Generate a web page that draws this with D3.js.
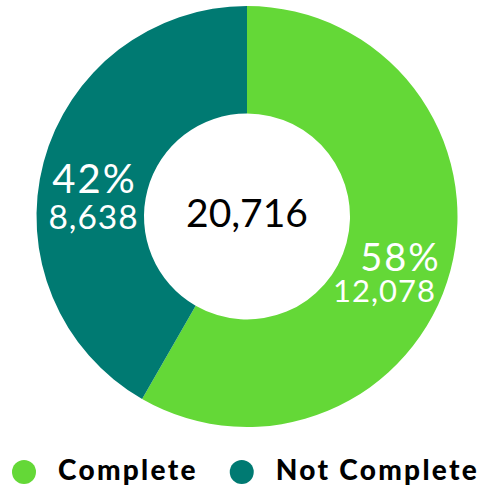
<!DOCTYPE html>
<html>
<head>
<meta charset="utf-8">
<script src="https://cdn.jsdelivr.net/npm/d3@7"></script>
<style>
  body { margin: 0; background: #fff; }
  text { font-family: "Lato", "Open Sans", sans-serif; }
</style>
</head>
<body>
<svg></svg>
<script>
const categories = ['Complete', 'Not Complete'];
const counts = [12078, 8638];
const colors = ['#64d837', '#007a72'];

const size = {w: 482, h: 493};
const center = {x: 247, y: 216.5};
const radius = {outer: 210.5, inner: 103};

// per-slice label tweaks (offsets from the centroid, font sizes)
const pctStyle = [{dx: 2, dy: 14, fs: 38}, {dx: -1, dy: 17, fs: 40}];
const valStyle = [{dx: -14, dy: 45, fs: 31}, {dx: -2, dy: 53, fs: 33.5}];

const svg = d3.select('svg')
    .attr('width', size.w)
    .attr('height', size.h);

const total = d3.sum(counts);
const fmt = d3.format(',');

const pie = d3.pie().sort(null).value(d => d.value);
const arc = d3.arc().innerRadius(radius.inner).outerRadius(radius.outer);

const data = categories.map((c, i) => ({name: c, value: counts[i], color: colors[i]}));
const arcs = pie(data);

const g = svg.append('g')
    .attr('transform', `translate(${center.x},${center.y})`);

g.selectAll('path')
    .data(arcs)
    .join('path')
    .attr('d', arc)
    .attr('fill', d => d.data.color);

// labels on slices
const labels = g.selectAll('g.label')
    .data(arcs)
    .join('g')
    .classed('label', true)
    .attr('transform', d => `translate(${arc.centroid(d)})`);

labels.append('text')
    .attr('text-anchor', 'middle')
    .attr('x', (d, i) => pctStyle[i].dx)
    .attr('y', (d, i) => pctStyle[i].dy)
    .attr('fill', '#fff')
    .attr('font-size', (d, i) => pctStyle[i].fs)
    .attr('letter-spacing', 2)
    .text(d => Math.round(d.data.value / total * 100) + '%');

labels.append('text')
    .attr('text-anchor', 'middle')
    .attr('x', (d, i) => valStyle[i].dx)
    .attr('y', (d, i) => valStyle[i].dy)
    .attr('fill', '#fff')
    .attr('font-size', (d, i) => valStyle[i].fs)
    .attr('letter-spacing', 1)
    .text(d => fmt(d.data.value));

g.append('text')
    .attr('text-anchor', 'middle')
    .attr('y', 10)
    .attr('fill', '#000')
    .attr('font-size', 39)
    .text(fmt(total));

// legend
const legend = svg.append('g').attr('transform', 'translate(0,472)');
let x = 24;
data.forEach(d => {
    legend.append('circle')
        .attr('cx', x)
        .attr('cy', 0)
        .attr('r', 12)
        .attr('fill', d.color);
    const t = legend.append('text')
        .attr('x', x + 34)
        .attr('y', 8)
        .attr('font-size', 28)
        .attr('font-weight', 900)
        .attr('letter-spacing', 2.3)
        .attr('fill', '#000')
        .text(d.name);
    x = x + 34 + t.node().getComputedTextLength() + 44;
});
</script>
</body>
</html>
